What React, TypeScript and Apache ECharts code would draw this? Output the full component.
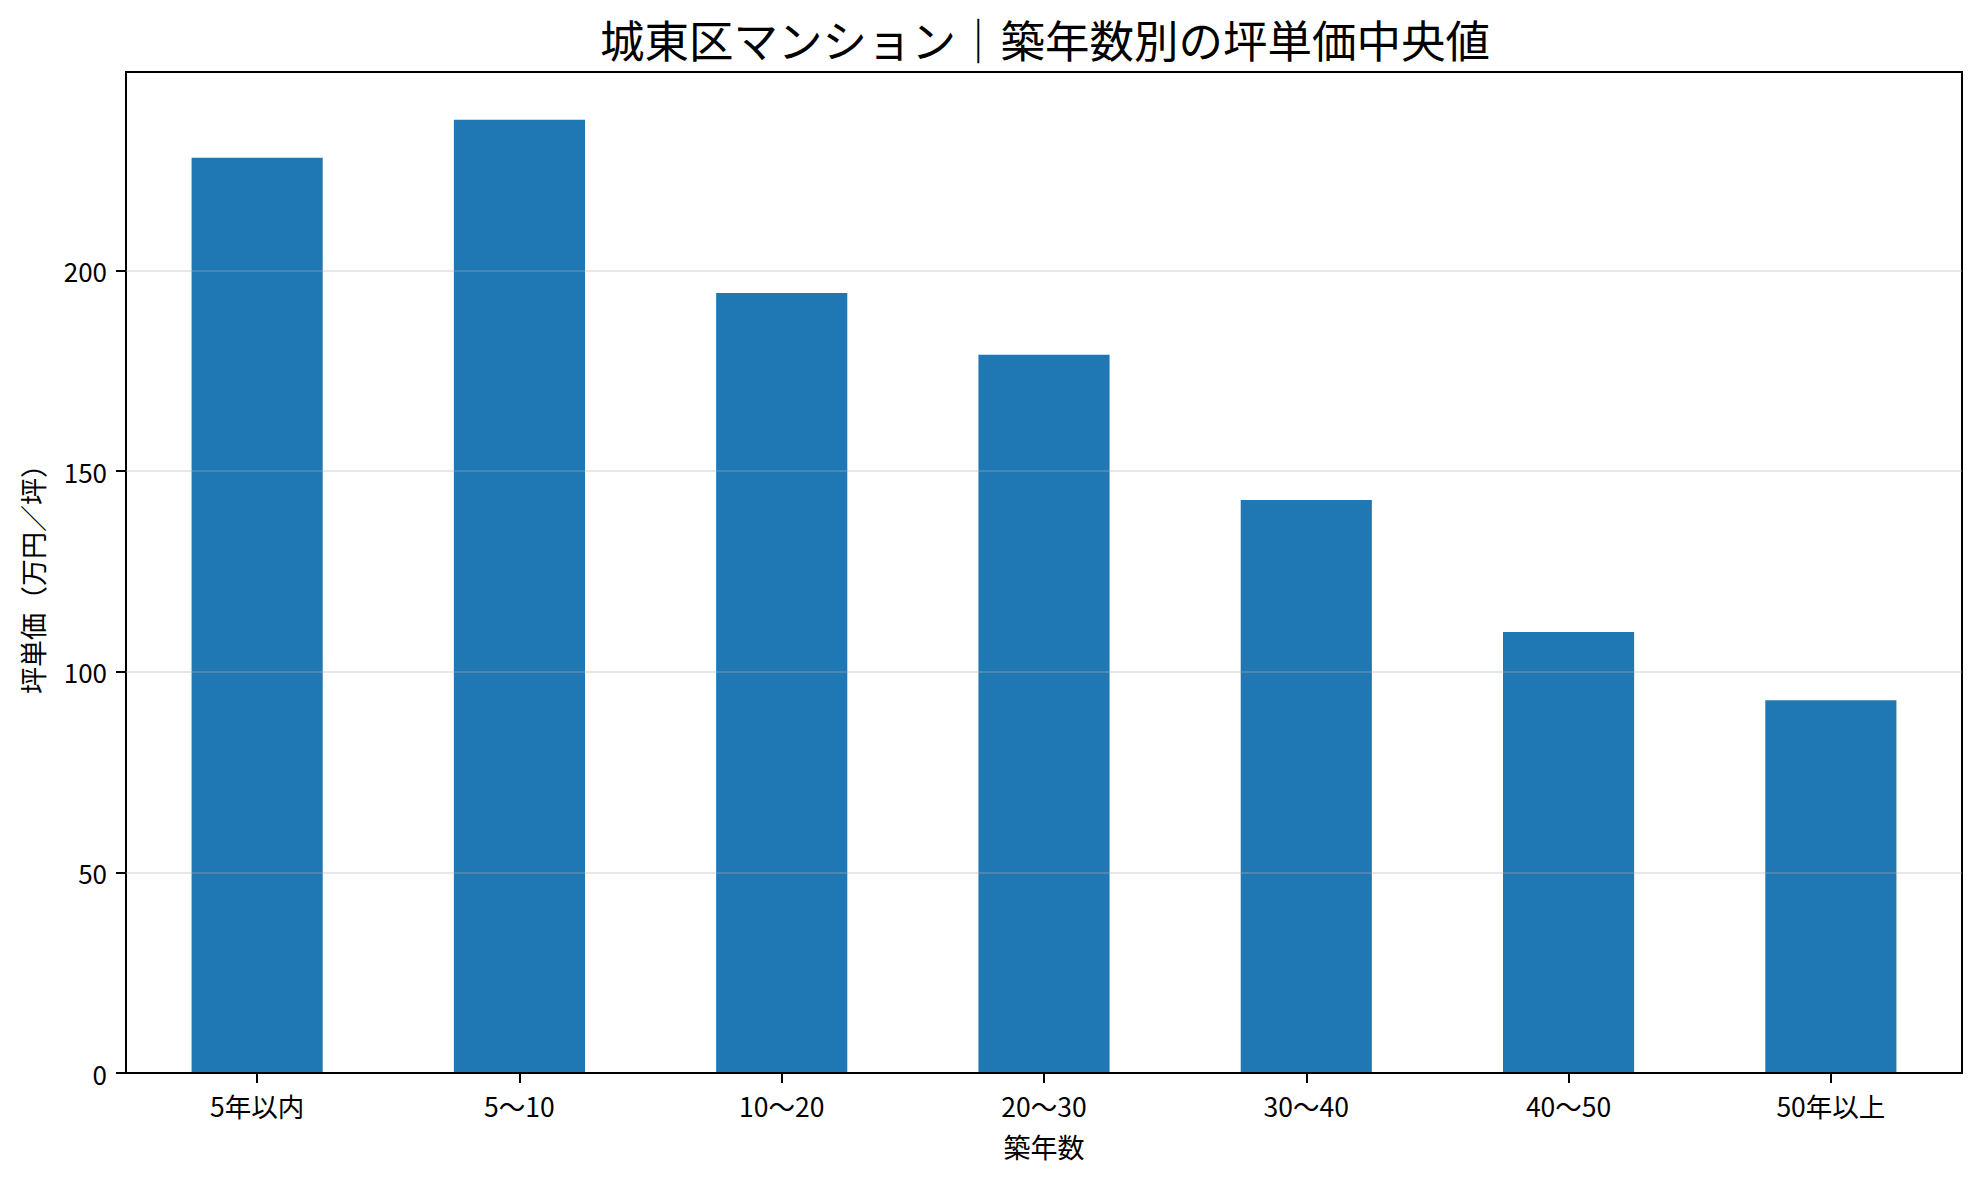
import React, { useEffect, useRef } from "react";
import * as echarts from "echarts";

const categories = ["5年以内", "5〜10", "10〜20", "20〜30", "30〜40", "40〜50", "50年以上"];
const medianPrice = [228.1, 237.6, 194.4, 179.0, 142.8, 109.9, 92.9];
const yTicks = [0, 50, 100, 150, 200];
const yMax = 249.5;

const FONT = "'Noto Sans CJK JP', 'Noto Sans', sans-serif";

export default function App() {
  const ref = useRef<HTMLDivElement>(null);
  useEffect(() => {
    if (!ref.current) return;
    const chart = echarts.init(ref.current, null, { renderer: "svg" });
    chart.setOption({
      animation: false,
      backgroundColor: "#ffffff",
      textStyle: { fontFamily: FONT },
      title: {
        text: "城東区マンション｜築年数別の坪単価中央値",
        left: 1040,
        top: 11,
        textAlign: "center",
        textStyle: { fontFamily: FONT, fontSize: 44.5, fontWeight: "normal", color: "#000" },
      },
      grid: {
        left: 126,
        right: 19,
        top: 72,
        bottom: 111,
        show: true,
        borderColor: "#000",
        borderWidth: 2,
        backgroundColor: "transparent",
      },
      xAxis: {
        type: "category",
        data: categories,
        z: 3,
        boundaryGap: true,
        name: "築年数",
        nameLocation: "middle",
        nameGap: 60,
        nameTextStyle: { fontFamily: FONT, fontSize: 27, color: "#000" },
        axisLine: { show: true, lineStyle: { color: "#000", width: 2 } },
        axisTick: { show: true, alignWithLabel: true, length: 10, lineStyle: { color: "#000", width: 2 } },
        axisLabel: { fontFamily: FONT, fontSize: 26.5, color: "#000", margin: 19, interval: 0 },
        splitLine: { show: false },
      },
      yAxis: {
        type: "value",
        min: 0,
        max: yMax,
        interval: 50,
        z: 3,
        name: "坪単価（万円／坪）",
        nameLocation: "middle",
        nameGap: 80,
        nameRotate: 90,
        nameTextStyle: { fontFamily: FONT, fontSize: 27, color: "#000" },
        axisLine: { show: true, lineStyle: { color: "#000", width: 2 } },
        axisTick: { show: true, length: 10, customValues: yTicks, lineStyle: { color: "#000", width: 2 } },
        axisLabel: { fontFamily: FONT, fontSize: 26, color: "#000", margin: 19, customValues: yTicks },
        splitLine: { show: false },
      },
      series: [
        {
          type: "bar",
          z: 1,
          data: medianPrice,
          barWidth: "50%",
          itemStyle: { color: "#1f77b4" },
          markLine: {
            silent: true,
            symbol: ["none", "none"],
            z: 5,
            label: { show: false },
            lineStyle: { type: "solid", color: "rgba(176,176,176,0.3)", width: 2 },
            emphasis: { disabled: true },
            data: yTicks.filter((v) => v > 0).map((v) => ({ yAxis: v })),
          },
        },
      ],
    });
    return () => chart.dispose();
  }, []);
  return (
    <div
      ref={ref}
      style={{ position: "fixed", left: 0, top: 0, width: 1981, height: 1184, background: "#fff" }}
    />
  );
}
